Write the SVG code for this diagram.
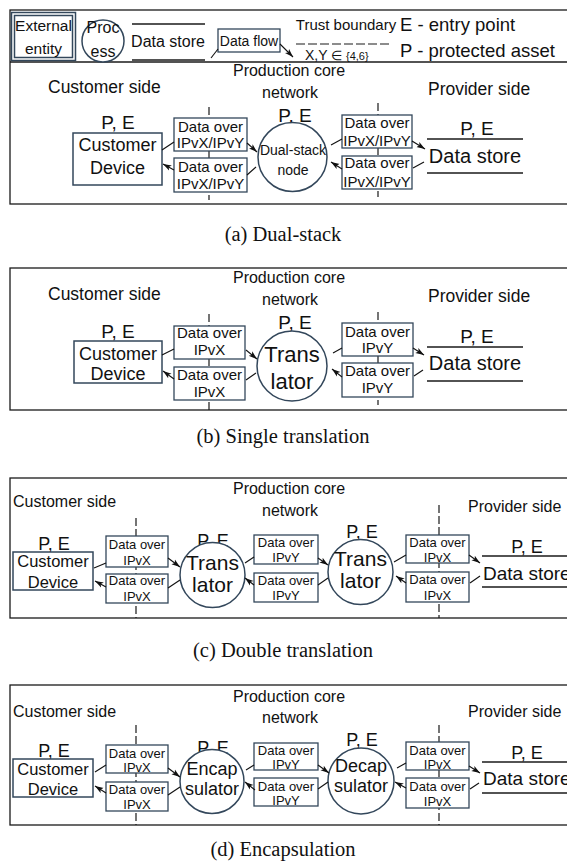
<svg xmlns="http://www.w3.org/2000/svg" width="567" height="861" viewBox="0 0 567 861">
  <defs>
    <marker id="ah" markerUnits="userSpaceOnUse" markerWidth="9" markerHeight="7" refX="8.5" refY="3.5" orient="auto">
      <path d="M0,0.6 L8.5,3.5 L0,6.4 L2,3.5 z" fill="#111"/>
    </marker>
  </defs>
  <style>
    text { font-family: "Liberation Sans", Arial, sans-serif; fill: #111; }
    .cap { font-family: "Liberation Serif", "Times New Roman", serif; font-size: 20.5px; text-anchor: middle; }
    .frame { fill: none; stroke: #1a1a1a; stroke-width: 1.3; }
    .ent { fill: #fff; stroke: #33475b; stroke-width: 1.5; }
    .proc { fill: #fff; stroke: #33475b; stroke-width: 1.5; }
    .store { stroke: #1a1a1a; stroke-width: 1.5; }
    .flow { fill: #fff; stroke: #33475b; stroke-width: 1.3; }
    .tb { stroke: #1a1a1a; stroke-width: 1.2; stroke-dasharray: 8 3; fill: none; }
    .conn line { stroke: #111; stroke-width: 1.1; }
    .conn line.a { marker-end: url(#ah); }
    .m { text-anchor: middle; }
    .hd { font-size: 16px; }
    .pe { font-size: 19px; text-anchor: middle; }
    .f13 { font-size: 13px; text-anchor: middle; }
  </style>
  <rect width="567" height="861" fill="#fff"/>

  <!-- ===== Legend + panel (a): dual-stack ===== -->
  <g id="panel-a">
    <rect class="frame" x="10" y="10" width="570" height="194"/>
    <line class="frame" x1="10" y1="62" x2="580" y2="62"/>

    <g id="legend">
      <g id="legend-entity">
        <rect class="ent" x="11.5" y="12.5" width="64" height="48"/>
        <rect class="ent" x="14.5" y="15.5" width="58" height="42"/>
        <text class="m" x="43.5" y="31" font-size="15.5">External</text>
        <text class="m" x="43.5" y="54" font-size="15.5">entity</text>
      </g>
      <g id="legend-process">
        <circle class="proc" cx="103" cy="41" r="21"/>
        <text class="m" x="103" y="33" font-size="16">Proc</text>
        <text class="m" x="103" y="57" font-size="16">ess</text>
      </g>
      <g id="legend-store">
        <line class="store" x1="132" y1="24" x2="205" y2="24"/>
        <line class="store" x1="132" y1="60" x2="205" y2="60"/>
        <text class="m" x="168" y="47" font-size="16">Data store</text>
      </g>
      <g id="legend-flow">
        <rect class="flow" x="218" y="29" width="62" height="23"/>
        <text class="m" x="249" y="46" font-size="14">Data flow</text>
      </g>
      <g id="legend-boundary">
        <text class="m" x="346" y="30" font-size="15">Trust boundary</text>
        <line class="tb" x1="296" y1="44" x2="392" y2="44" style="stroke-dasharray:9 3"/>
        <text x="305" y="60" font-size="14">X,Y</text>
        <text x="331" y="60" font-size="13">∈</text>
        <text x="346" y="60" font-size="11">{4,6}</text>
      </g>
      <text x="400" y="31" font-size="18.5">E - entry point</text>
      <text x="400" y="57" font-size="18.5">P - protected asset</text>
      <g class="conn">
        <line x1="211" y1="58" x2="218" y2="49"/>
        <line class="a" x1="280" y1="44" x2="293" y2="57"/>
      </g>
    </g>

    <text class="m hd" x="289" y="76">Production core</text>
    <text class="m hd" x="290" y="98">network</text>
    <text x="48" y="93" font-size="17.5">Customer side</text>
    <text x="428" y="95" font-size="17.5">Provider side</text>

    <line class="tb" x1="209" y1="107" x2="209" y2="200"/>
    <line class="tb" x1="378" y1="103" x2="378" y2="197"/>

    <g id="a-customer">
      <text class="pe" x="118" y="129">P, E</text>
      <rect class="ent" x="73" y="133" width="89" height="52"/>
      <text class="m" x="117.5" y="151" font-size="18">Customer</text>
      <text class="m" x="117.5" y="174" font-size="18">Device</text>
    </g>
    <g id="a-node">
      <text class="pe" x="295" y="122">P, E</text>
      <circle class="proc" cx="292.5" cy="157" r="34.5"/>
      <text class="m" x="293" y="155" font-size="14">Dual-stack</text>
      <text class="m" x="293" y="175" font-size="14">node</text>
    </g>
    <g id="a-flow-1">
      <rect class="flow" x="174" y="118" width="73" height="33"/>
      <text class="m" x="210.5" y="132" font-size="15">Data over</text>
      <text class="m" x="210.5" y="148" font-size="15">IPvX/IPvY</text>
    </g>
    <g id="a-flow-2">
      <rect class="flow" x="174" y="158" width="73" height="34"/>
      <text class="m" x="210.5" y="172" font-size="15">Data over</text>
      <text class="m" x="210.5" y="189" font-size="15">IPvX/IPvY</text>
    </g>
    <g id="a-flow-3">
      <rect class="flow" x="342" y="115" width="70" height="33"/>
      <text class="m" x="377" y="128" font-size="15">Data over</text>
      <text class="m" x="377" y="146" font-size="15">IPvX/IPvY</text>
    </g>
    <g id="a-flow-4">
      <rect class="flow" x="342" y="156" width="70" height="33"/>
      <text class="m" x="377" y="168" font-size="15">Data over</text>
      <text class="m" x="377" y="187" font-size="15">IPvX/IPvY</text>
    </g>
    <g id="a-store">
      <text class="pe" x="477" y="135">P, E</text>
      <line class="store" x1="427" y1="139" x2="523" y2="139"/>
      <line class="store" x1="427" y1="173" x2="523" y2="173"/>
      <text class="m" x="475" y="163" font-size="20">Data store</text>
    </g>
    <g id="a-connectors" class="conn">
      <line x1="162" y1="150" x2="174" y2="142"/>
      <line class="a" x1="247" y1="143" x2="257" y2="152"/>
      <line x1="256" y1="167" x2="247" y2="175"/>
      <line class="a" x1="174" y1="170" x2="163" y2="164"/>
      <line x1="331" y1="145" x2="342" y2="139"/>
      <line class="a" x1="412" y1="141" x2="425" y2="149"/>
      <line x1="424" y1="162" x2="413" y2="168"/>
      <line class="a" x1="342" y1="169" x2="331" y2="162"/>
    </g>
  </g>
  <text class="cap" x="283" y="241">(a)  Dual-stack</text>

  <!-- ===== Panel (b): single translation ===== -->
  <g id="panel-b">
    <rect class="frame" x="10" y="268" width="570" height="142"/>
    <text class="m hd" x="289" y="283">Production core</text>
    <text class="m hd" x="290" y="305">network</text>
    <text x="48" y="300" font-size="17.5">Customer side</text>
    <text x="428" y="302" font-size="17.5">Provider side</text>

    <line class="tb" x1="209" y1="314" x2="209" y2="410"/>
    <line class="tb" x1="378" y1="312" x2="378" y2="405"/>

    <g id="b-customer">
      <text class="pe" x="118" y="338">P, E</text>
      <rect class="ent" x="74" y="341" width="88" height="42"/>
      <text class="m" x="118" y="360" font-size="18">Customer</text>
      <text class="m" x="118" y="380" font-size="18">Device</text>
    </g>
    <g id="b-translator">
      <text class="pe" x="295" y="329">P, E</text>
      <circle class="proc" cx="292" cy="366" r="35"/>
      <text class="m" x="292" y="362" font-size="22">Trans</text>
      <text class="m" x="292" y="389" font-size="22">lator</text>
    </g>
    <g id="b-flow-1">
      <rect class="flow" x="174" y="326" width="71" height="33"/>
      <text class="m" x="209.5" y="338" font-size="15">Data over</text>
      <text class="m" x="209.5" y="355" font-size="15">IPvX</text>
    </g>
    <g id="b-flow-2">
      <rect class="flow" x="174" y="367" width="71" height="33"/>
      <text class="m" x="209.5" y="380" font-size="15">Data over</text>
      <text class="m" x="209.5" y="397" font-size="15">IPvX</text>
    </g>
    <g id="b-flow-3">
      <rect class="flow" x="342" y="323" width="71" height="33"/>
      <text class="m" x="377.5" y="337" font-size="15">Data over</text>
      <text class="m" x="377.5" y="353" font-size="15">IPvY</text>
    </g>
    <g id="b-flow-4">
      <rect class="flow" x="342" y="363" width="71" height="34"/>
      <text class="m" x="377.5" y="376" font-size="15">Data over</text>
      <text class="m" x="377.5" y="393" font-size="15">IPvY</text>
    </g>
    <g id="b-store">
      <text class="pe" x="477" y="343">P, E</text>
      <line class="store" x1="427" y1="347" x2="523" y2="347"/>
      <line class="store" x1="427" y1="381" x2="523" y2="381"/>
      <text class="m" x="475" y="370" font-size="20">Data store</text>
    </g>
    <g id="b-connectors" class="conn">
      <line x1="162" y1="355" x2="174" y2="349"/>
      <line class="a" x1="246" y1="350" x2="257" y2="359"/>
      <line x1="256" y1="373" x2="246" y2="380"/>
      <line class="a" x1="174" y1="379" x2="163" y2="371"/>
      <line x1="333" y1="353" x2="342" y2="348"/>
      <line class="a" x1="413" y1="348" x2="424" y2="355"/>
      <line x1="423" y1="370" x2="414" y2="376"/>
      <line class="a" x1="342" y1="377" x2="332" y2="369"/>
    </g>
  </g>
  <text class="cap" x="283" y="443">(b)  Single translation</text>

  <!-- ===== Panel (c): double translation ===== -->
  <g id="panel-c">
    <rect class="frame" x="10" y="478" width="570" height="140"/>
    <text class="m hd" x="289" y="494">Production core</text>
    <text class="m hd" x="290" y="516">network</text>
    <text x="13" y="507" font-size="16">Customer side</text>
    <text x="468" y="512" font-size="16">Provider side</text>

    <line class="tb" x1="136" y1="518" x2="136" y2="618"/>
    <line class="tb" x1="439" y1="505" x2="439" y2="618"/>

    <g id="c-customer">
      <text class="m" x="54" y="550" font-size="18">P, E</text>
      <rect class="ent" x="13" y="552" width="80" height="38"/>
      <text class="m" x="53" y="567" font-size="16.5">Customer</text>
      <text class="m" x="53" y="588" font-size="16.5">Device</text>
    </g>
    <g id="c-translator-1">
      <text class="m" x="213" y="547" font-size="18">P, E</text>
      <circle class="proc" cx="212.5" cy="575" r="32.5"/>
      <text class="m" x="212.5" y="570" font-size="21">Trans</text>
      <text class="m" x="212.5" y="592" font-size="21">lator</text>
    </g>
    <g id="c-translator-2">
      <text class="m" x="362" y="538" font-size="18">P, E</text>
      <circle class="proc" cx="360.5" cy="572" r="32.5"/>
      <text class="m" x="360.5" y="566" font-size="21">Trans</text>
      <text class="m" x="360.5" y="588" font-size="21">lator</text>
    </g>
    <g id="c-flow-1">
      <rect class="flow" x="106" y="536" width="62" height="31"/>
      <text class="f13" x="137" y="549">Data over</text>
      <text class="f13" x="137" y="565">IPvX</text>
    </g>
    <g id="c-flow-2">
      <rect class="flow" x="106" y="574" width="62" height="29"/>
      <text class="f13" x="137" y="585">Data over</text>
      <text class="f13" x="137" y="601">IPvX</text>
    </g>
    <g id="c-flow-3">
      <rect class="flow" x="254" y="535" width="64" height="29"/>
      <text class="f13" x="286" y="547">Data over</text>
      <text class="f13" x="286" y="562">IPvY</text>
    </g>
    <g id="c-flow-4">
      <rect class="flow" x="254" y="573" width="64" height="29"/>
      <text class="f13" x="286" y="585">Data over</text>
      <text class="f13" x="286" y="600">IPvY</text>
    </g>
    <g id="c-flow-5">
      <rect class="flow" x="406" y="535" width="63" height="28"/>
      <text class="f13" x="437.5" y="547">Data over</text>
      <text class="f13" x="437.5" y="562">IPvX</text>
    </g>
    <g id="c-flow-6">
      <rect class="flow" x="406" y="572" width="63" height="30"/>
      <text class="f13" x="437.5" y="584">Data over</text>
      <text class="f13" x="437.5" y="600">IPvX</text>
    </g>
    <g id="c-store">
      <text class="m" x="527" y="553" font-size="18">P, E</text>
      <line class="store" x1="482" y1="556" x2="572" y2="556"/>
      <line class="store" x1="482" y1="587" x2="572" y2="587"/>
      <text x="483" y="580" font-size="19">Data store</text>
    </g>
    <g id="c-connectors" class="conn">
      <line x1="94" y1="568" x2="106" y2="563"/>
      <line class="a" x1="168" y1="558" x2="180" y2="567"/>
      <line x1="180" y1="580" x2="168" y2="588"/>
      <line class="a" x1="106" y1="587" x2="95" y2="581"/>
      <line x1="245" y1="563" x2="254" y2="557"/>
      <line class="a" x1="318" y1="558" x2="328" y2="565"/>
      <line x1="328" y1="578" x2="318" y2="585"/>
      <line class="a" x1="254" y1="585" x2="245" y2="578"/>
      <line x1="394" y1="562" x2="406" y2="555"/>
      <line class="a" x1="469" y1="555" x2="480" y2="563"/>
      <line x1="480" y1="576" x2="470" y2="583"/>
      <line class="a" x1="406" y1="583" x2="396" y2="576"/>
    </g>
  </g>
  <text class="cap" x="283" y="657">(c)  Double translation</text>

  <!-- ===== Panel (d): encapsulation ===== -->
  <g id="panel-d">
    <rect class="frame" x="10" y="685" width="570" height="140"/>
    <text class="m hd" x="289" y="702">Production core</text>
    <text class="m hd" x="290" y="723">network</text>
    <text x="13" y="717" font-size="16">Customer side</text>
    <text x="468" y="717" font-size="16">Provider side</text>

    <line class="tb" x1="136" y1="725" x2="136" y2="825"/>
    <line class="tb" x1="439" y1="725" x2="439" y2="825"/>

    <g id="d-customer">
      <text class="m" x="54" y="757" font-size="18">P, E</text>
      <rect class="ent" x="13" y="759" width="80" height="38"/>
      <text class="m" x="53" y="775" font-size="16.5">Customer</text>
      <text class="m" x="53" y="795" font-size="16.5">Device</text>
    </g>
    <g id="d-encapsulator">
      <text class="m" x="213" y="754" font-size="18">P, E</text>
      <circle class="proc" cx="212" cy="781.5" r="32"/>
      <text class="m" x="212" y="775" font-size="18">Encap</text>
      <text class="m" x="212" y="795" font-size="18">sulator</text>
    </g>
    <g id="d-decapsulator">
      <text class="m" x="362" y="746" font-size="18">P, E</text>
      <circle class="proc" cx="361" cy="781" r="33"/>
      <text class="m" x="361" y="772" font-size="18">Decap</text>
      <text class="m" x="361" y="792" font-size="18">sulator</text>
    </g>
    <g id="d-flow-1">
      <rect class="flow" x="106" y="745" width="62" height="28"/>
      <text class="f13" x="137" y="758">Data over</text>
      <text class="f13" x="137" y="772">IPvX</text>
    </g>
    <g id="d-flow-2">
      <rect class="flow" x="106" y="782" width="62" height="29"/>
      <text class="f13" x="137" y="794">Data over</text>
      <text class="f13" x="137" y="809">IPvX</text>
    </g>
    <g id="d-flow-3">
      <rect class="flow" x="254" y="743" width="64" height="27"/>
      <text class="f13" x="286" y="755">Data over</text>
      <text class="f13" x="286" y="769">IPvY</text>
    </g>
    <g id="d-flow-4">
      <rect class="flow" x="254" y="778" width="64" height="28"/>
      <text class="f13" x="286" y="791">Data over</text>
      <text class="f13" x="286" y="805">IPvY</text>
    </g>
    <g id="d-flow-5">
      <rect class="flow" x="406" y="742" width="63" height="28"/>
      <text class="f13" x="437.5" y="755">Data over</text>
      <text class="f13" x="437.5" y="769">IPvX</text>
    </g>
    <g id="d-flow-6">
      <rect class="flow" x="406" y="778" width="63" height="30"/>
      <text class="f13" x="437.5" y="791">Data over</text>
      <text class="f13" x="437.5" y="806">IPvX</text>
    </g>
    <g id="d-store">
      <text class="m" x="527" y="759" font-size="18">P, E</text>
      <line class="store" x1="482" y1="762" x2="572" y2="762"/>
      <line class="store" x1="482" y1="793" x2="572" y2="793"/>
      <text x="483" y="785" font-size="19">Data store</text>
    </g>
    <g id="d-connectors" class="conn">
      <line x1="95" y1="772" x2="106" y2="765"/>
      <line class="a" x1="168" y1="768" x2="180" y2="777"/>
      <line x1="180" y1="787" x2="168" y2="795"/>
      <line class="a" x1="106" y1="793" x2="95" y2="786"/>
      <line x1="246" y1="770" x2="254" y2="765"/>
      <line class="a" x1="318" y1="765" x2="329" y2="773"/>
      <line x1="328" y1="782" x2="318" y2="789"/>
      <line class="a" x1="255" y1="790" x2="245" y2="782"/>
      <line x1="397" y1="768" x2="406" y2="763"/>
      <line class="a" x1="469" y1="766" x2="480" y2="773"/>
      <line x1="479" y1="783" x2="470" y2="789"/>
      <line class="a" x1="406" y1="788" x2="395" y2="782"/>
    </g>
  </g>
  <text class="cap" x="283" y="856">(d)  Encapsulation</text>
</svg>
